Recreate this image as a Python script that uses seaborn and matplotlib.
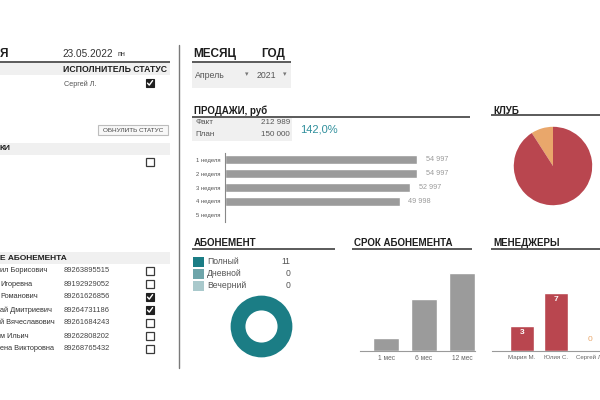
import matplotlib
matplotlib.use('Agg')
import matplotlib.pyplot as plt
from matplotlib.patches import Rectangle
import seaborn as sns


# ---- Data -------------------------------------------####

report_date = '23.05.2022'
report_weekday = 'пн'
task_executor = 'Сергей Л.'
task_done = True
calls_done = False

client_names = ['ил Борисович', 'Игоревна', 'Романович', 'ай Дмитриевич',
                'й Вячеславович', 'м Ильич', 'ена Викторовна']
client_phones = ['89263895515', '89192929052', '89261626856', '89264731186',
                 '89261684243', '89262808202', '89268765432']
client_called = [False, False, True, True, False, False, False]

month_name = 'Апрель'
year_name = '2021'

sales_fact = 212989
sales_plan = 150000

weeks = ['1 неделя', '2 неделя', '3 неделя', '4 неделя', '5 неделя']
week_sales = [54997, 54997, 52997, 49998, 0]

club_values = [1, 10]

sub_types = ['Полный', 'Дневной', 'Вечерний']
sub_counts = [11, 0, 0]

terms = ['1 мес', '6 мес', '12 мес']
term_counts = [1, 4, 6]

managers = ['Мария М.', 'Юлия С.', 'Сергей Л.']
manager_counts = [3, 7, 0]


# ---- Style -------------------------------------------####

W, H = 600, 400
DARK = '#1e1e1e'
TXT = '#555555'
LINE = '#5a5a5a'
BAND = '#f0f0f0'
GRAY_BAR = '#9b9b9b'
RED = '#b9464f'
ORANGE = '#e9a76b'
TEALS = ['#1b7d85', '#6ea5aa', '#a9c9cc']
PCT = '#2f8f9c'

sns.set_theme(style='white')
plt.rcParams['font.family'] = ['Liberation Sans', 'DejaVu Sans']


def px_box(x0, y0, x1, y1):
    return [x0 / W, 1 - y1 / H, (x1 - x0) / W, (y1 - y0) / H]


def fmt(v):
    return f'{v:,}'.replace(',', ' ')


fig = plt.figure(figsize=(6, 4), dpi=100)
fig.patch.set_facecolor('white')

bg = fig.add_axes([0, 0, 1, 1])
bg.set_xlim(0, W)
bg.set_ylim(H, 0)
bg.axis('off')


def header(x0, x1, y_text, y_line, text, size):
    bg.text(x0 + 2, y_text, text, fontsize=size, fontweight='bold', va='center', color=DARK)
    bg.plot([x0, x1], [y_line, y_line], color=LINE, lw=1.4, solid_capstyle='butt')


def band(x0, x1, y0, y1):
    bg.add_patch(Rectangle((x0, y0), x1 - x0, y1 - y0, facecolor=BAND, edgecolor='none'))


def checkbox(x, y, checked):
    if checked:
        bg.add_patch(Rectangle((x - 4, y - 4), 8, 8, facecolor='#202020', edgecolor='#202020', lw=0.8))
        bg.plot([x - 2.5, x - 0.7, x + 2.6], [y + 0.1, y + 2.1, y - 2.4], color='white', lw=1.0)
    else:
        bg.add_patch(Rectangle((x - 4, y - 4), 8, 8, facecolor='white', edgecolor='#3a3a3a', lw=0.9))


# ---- Left panel -------------------------------------------####

bg.text(0, 54, 'Я', fontsize=8.5, fontweight='bold', va='center', color=DARK)
bg.text(62, 54, report_date, fontsize=7.2, va='center', color='#333333')
bg.text(118, 55, report_weekday, fontsize=5.2, va='center', color='#333333')
bg.plot([0, 170], [61.5, 61.5], color=LINE, lw=1.4, solid_capstyle='butt')
band(0, 170, 63, 75)
bg.text(63, 69, 'ИСПОЛНИТЕЛЬ СТАТУС', fontsize=6.2, fontweight='bold', va='center', color=DARK)
bg.text(64, 84, task_executor, fontsize=5.2, va='center', color=TXT)
checkbox(150, 83, task_done)

bg.add_patch(Rectangle((98, 125), 70, 10, facecolor='#f8f8f8', edgecolor='#bdbdbd', lw=0.8))
bg.text(133, 130.5, 'ОБНУЛИТЬ СТАТУС', fontsize=4.6, ha='center', va='center', color='#444444')

band(0, 170, 143, 155)
bg.text(0, 149, 'КИ', fontsize=6, fontweight='bold', va='center', color=DARK)
checkbox(150, 162, calls_done)

band(0, 170, 252, 264)
bg.text(0, 258, 'Е АБОНЕМЕНТА', fontsize=6, fontweight='bold', va='center', color=DARK)
for i, (name, phone, called) in enumerate(zip(client_names, client_phones, client_called)):
    y = 271 + 13 * i
    bg.text(0, y, name, fontsize=5.3, va='center', color='#333333')
    bg.text(64, y, phone, fontsize=5.4, va='center', color='#444444')
    checkbox(150, y, called)

bg.plot([179, 179], [45, 368], color='#7a7a7a', lw=1.0)


# ---- Right: filters and sales -------------------------------------------####

bg.text(193, 54, 'МЕСЯЦ', fontsize=8.5, fontweight='bold', va='center', color=DARK)
bg.text(261, 54, 'ГОД', fontsize=8.5, fontweight='bold', va='center', color=DARK)
bg.plot([192, 291], [62, 62], color=LINE, lw=1.4, solid_capstyle='butt')
band(192, 291, 63, 88)
bg.text(195, 75, month_name, fontsize=6.3, va='center', color=TXT)
bg.text(245, 75, '▾', fontsize=5, va='center', color='#777777')
bg.text(257, 75, year_name, fontsize=6.3, va='center', color=TXT)
bg.text(283, 75, '▾', fontsize=5, va='center', color='#777777')

header(192, 470, 111, 116.5, 'ПРОДАЖИ, руб', 7)
band(192, 292, 117, 141)
bg.text(195, 122, 'Факт', fontsize=5.8, va='center', color=TXT)
bg.text(290, 122, fmt(sales_fact), fontsize=5.8, ha='right', va='center', color=TXT)
bg.text(195, 135, 'План', fontsize=5.8, va='center', color=TXT)
bg.text(290, 135, fmt(sales_plan), fontsize=5.8, ha='right', va='center', color=TXT)
pct = f'{sales_fact / sales_plan * 100:.1f}%'.replace('.', ',')
bg.text(300, 129.5, pct, fontsize=8, va='center', color=PCT)

ax_w = fig.add_axes(px_box(225, 153, 470, 222))
ax_w.patch.set_alpha(0)
sns.barplot(x=week_sales, y=weeks, orient='h', color=GRAY_BAR, saturation=1, width=0.65, ax=ax_w)
ax_w.set_xlim(0, 70000)
ax_w.set_ylim(4.5, -0.5)
for i, v in enumerate(week_sales):
    if v > 0:
        ax_w.text(v + 2300, i, fmt(v), fontsize=5.2, va='center', color='#9a9a9a')
ax_w.set_xticks([])
ax_w.set_xlabel('')
ax_w.set_ylabel('')
ax_w.tick_params(axis='y', length=0, pad=3, labelsize=4.2, labelcolor='#555555')
for s in ['top', 'right', 'bottom']:
    ax_w.spines[s].set_visible(False)
ax_w.spines['left'].set_color('#888888')
ax_w.spines['left'].set_linewidth(0.8)


# ---- Club pie -------------------------------------------####

header(491, 600, 111, 115, 'КЛУБ', 7)
ax_p = fig.add_axes(px_box(513, 126, 593, 206))
ax_p.pie(club_values, colors=[ORANGE, RED], startangle=90, counterclock=True, radius=1,
         wedgeprops=dict(edgecolor='none', linewidth=0))
ax_p.set_xlim(-1.02, 1.02)
ax_p.set_ylim(-1.02, 1.02)


# ---- Subscription donut -------------------------------------------####

header(192, 335, 243, 249, 'АБОНЕМЕНТ', 7)
for i, (name, cnt) in enumerate(zip(sub_types, sub_counts)):
    y = 261.5 + 12 * i
    bg.add_patch(Rectangle((193, y - 4.5), 11, 9.5, facecolor=TEALS[i], edgecolor='none'))
    bg.text(207, y, name, fontsize=6.2, va='center', color=TXT)
    bg.text(290, y, str(cnt), fontsize=6.2, ha='right', va='center', color=TXT)

ax_d = fig.add_axes(px_box(230, 295, 293, 358))
ax_d.pie(sub_counts, colors=TEALS, startangle=90, counterclock=False,
         wedgeprops=dict(width=0.48, edgecolor='none', linewidth=0))
ax_d.set_xlim(-1.02, 1.02)
ax_d.set_ylim(-1.02, 1.02)


# ---- Term bars -------------------------------------------####

header(352, 472, 243, 249, 'СРОК АБОНЕМЕНТА', 7)
ax_t = fig.add_axes(px_box(360, 250, 475, 351))
ax_t.patch.set_alpha(0)
sns.barplot(x=terms, y=term_counts, color=GRAY_BAR, saturation=1, width=0.68, ax=ax_t)
ax_t.set_xlim(-0.684, 2.34)
ax_t.set_ylim(0, 7.77)
ax_t.set_yticks([])
ax_t.set_xlabel('')
ax_t.set_ylabel('')
ax_t.tick_params(axis='x', length=0, pad=3, labelsize=4.8, labelcolor='#666666')
for s in ['top', 'right', 'left']:
    ax_t.spines[s].set_visible(False)
ax_t.spines['bottom'].set_color('#9a9a9a')
ax_t.spines['bottom'].set_linewidth(0.8)


# ---- Manager bars -------------------------------------------####

header(491, 600, 243, 249, 'МЕНЕДЖЕРЫ', 7)
ax_m = fig.add_axes(px_box(492, 250, 620, 351))
ax_m.patch.set_alpha(0)
sns.barplot(x=managers, y=manager_counts, hue=managers, palette=[RED, RED, ORANGE],
            saturation=1, width=0.7, legend=False, ax=ax_m)
ax_m.set_xlim(-0.882, 2.88)
ax_m.set_ylim(0, 12.2)
for i, v in enumerate(manager_counts):
    if v > 0:
        ax_m.text(i, v - 0.75, str(v), fontsize=6, fontweight='bold', ha='center', va='center', color='white')
    else:
        ax_m.text(i, 1.4, str(v), fontsize=6, ha='center', va='center', color=ORANGE)
ax_m.set_yticks([])
ax_m.set_xlabel('')
ax_m.set_ylabel('')
ax_m.tick_params(axis='x', length=0, pad=3, labelsize=4.4, labelcolor='#666666')
for s in ['top', 'right', 'left']:
    ax_m.spines[s].set_visible(False)
ax_m.spines['bottom'].set_color('#9a9a9a')
ax_m.spines['bottom'].set_linewidth(0.8)

plt.savefig('out.png', dpi=100, facecolor='white')
